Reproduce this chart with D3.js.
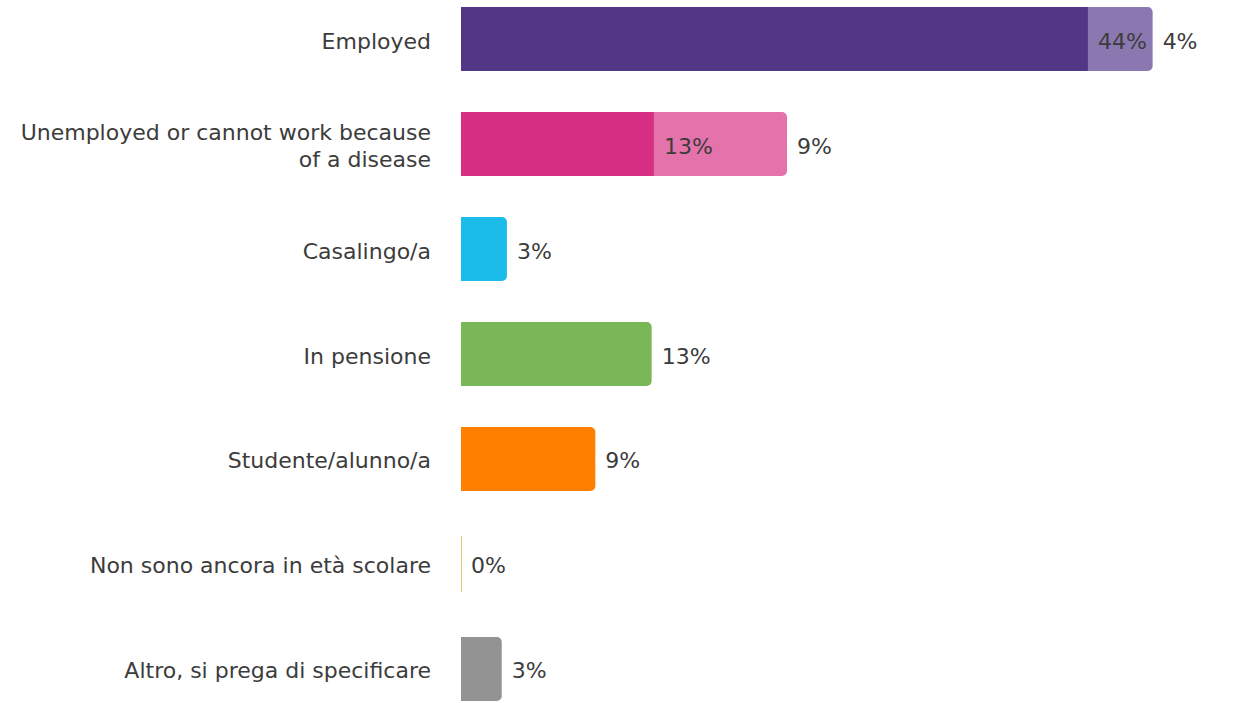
<!DOCTYPE html>
<html>
<head>
<meta charset="utf-8">
<script src="https://cdn.jsdelivr.net/npm/d3@7"></script>
<style>
  html, body { margin: 0; padding: 0; background: #fff; }
  svg { display: block; font-family: "DejaVu Sans", Verdana, sans-serif; }
</style>
</head>
<body>
<svg id="chart" width="1239" height="703"></svg>
<script>
const categories = [
  "Employed",
  "Unemployed or cannot work because of a disease",
  "Casalingo/a",
  "In pensione",
  "Studente/alunno/a",
  "Non sono ancora in età scolare",
  "Altro, si prega di specificare"
];
const categoryLines = [
  ["Employed"],
  ["Unemployed or cannot work because", "of a disease"],
  ["Casalingo/a"],
  ["In pensione"],
  ["Studente/alunno/a"],
  ["Non sono ancora in età scolare"],
  ["Altro, si prega di specificare"]
];
const primaryValues = [43.54, 13.4, 3.19, 13.24, 9.33, 0, 2.83];
const secondaryValues = [4.49, 9.24, null, null, null, null, null];
const primaryColors = ["#523786", "#d52e83", "#1bbce9", "#79b757", "#ff8000", "#f2c46e", "#939393"];
const secondaryColors = ["#8c78b1", "#e473ab", null, null, null, null, null];

const svg = d3.select("#chart");
const x = d3.scaleLinear().domain([0, 100]).range([461, 461 + 1440]);
const y = d3.scaleBand().domain(categories).range([7, 701]).paddingInner(0.39).paddingOuter(0);
const fmt = v => d3.format(".0f")(v) + "%";
const r = 5;

function barPath(x0, x1, y0, h, rounded) {
  const w = x1 - x0;
  const rr = rounded ? Math.min(r, w, h / 2) : 0;
  return `M${x0},${y0}H${x1 - rr}` +
    (rr ? `A${rr},${rr} 0 0 1 ${x1},${y0 + rr}` : "") +
    `V${y0 + h - rr}` +
    (rr ? `A${rr},${rr} 0 0 1 ${x1 - rr},${y0 + h}` : "") +
    `H${x0}Z`;
}

const textColor = "#3c3c3c";
const fs = 22;
const dy = 2;

categories.forEach((cat, i) => {
  const y0 = y(cat), h = y.bandwidth(), cy = y0 + h / 2 + dy;
  const p = primaryValues[i], s = secondaryValues[i];
  const hasS = s !== null;

  if (p > 0) {
    svg.append("path")
      .attr("d", barPath(x(0), x(p), y0, h, !hasS))
      .attr("fill", primaryColors[i]);
  } else {
    svg.append("line")
      .attr("x1", x(0) + 0.5).attr("x2", x(0) + 0.5)
      .attr("y1", y0 + 4).attr("y2", y0 + h - 4)
      .attr("stroke", primaryColors[i]).attr("stroke-width", 1);
  }
  if (hasS) {
    svg.append("path")
      .attr("d", barPath(x(p), x(p + s), y0, h, true))
      .attr("fill", secondaryColors[i]);
  }

  svg.append("text")
    .attr("x", x(p) + 10).attr("y", cy)
    .attr("dominant-baseline", "central")
    .attr("font-size", fs).attr("fill", textColor)
    .text(fmt(p));
  if (hasS) {
    svg.append("text")
      .attr("x", x(p + s) + 10).attr("y", cy)
      .attr("dominant-baseline", "central")
      .attr("font-size", fs).attr("fill", textColor)
      .text(fmt(s));
  }

  const lines = categoryLines[i];
  const lh = 27;
  lines.forEach((ln, j) => {
    svg.append("text")
      .attr("x", 431)
      .attr("y", cy + (j - (lines.length - 1) / 2) * lh)
      .attr("text-anchor", "end")
      .attr("dominant-baseline", "central")
      .attr("font-size", fs).attr("fill", textColor)
      .text(ln);
  });
});
</script>
</body>
</html>
